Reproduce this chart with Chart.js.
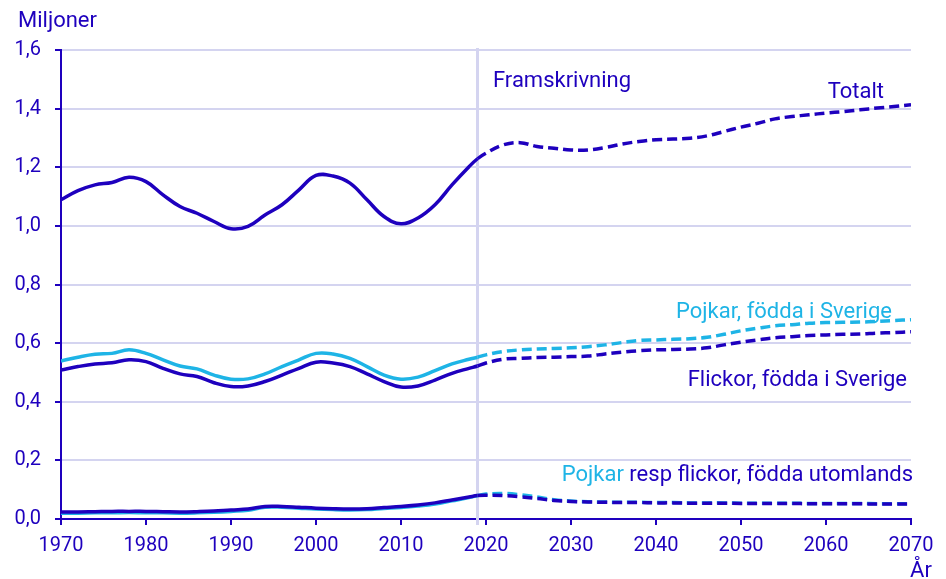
<!DOCTYPE html>
<html lang="sv">
<head>
  <meta charset="UTF-8">
  <title>Miljoner barn</title>
  <script src="https://cdn.jsdelivr.net/npm/chart.js@4.4.0/dist/chart.umd.min.js"></script>
  <style>
    html, body { margin: 0; padding: 0; background: #fff; }
    #wrap { width: 946px; height: 579px; }
  </style>
</head>
<body>
  <div id="wrap"><canvas id="chart"></canvas></div>
  <script>
    const DARK = '#1e00be';
    const LIGHT = '#1eb4e6';
    const GRID = '#d4d4f0';
    const FONT = 'Roboto, "Noto Sans", sans-serif';

    // years (historical up to 2019, framskrivning from 2019)
    const years = [
      1970, 1972, 1974, 1976, 1978, 1980, 1982, 1984, 1986, 1988,
      1990, 1992, 1994, 1996, 1998, 2000, 2002, 2004, 2006, 2008,
      2010, 2012, 2014, 2016, 2018, 2019,
      2020, 2022, 2024, 2026, 2028, 2030, 2032, 2034, 2036, 2038,
      2040, 2042, 2044, 2046, 2048, 2050, 2052, 2054, 2056, 2058,
      2060, 2062, 2064, 2066, 2068, 2070
    ];
    const forecastStart = 2019;
    const xTicks = [1970, 1980, 1990, 2000, 2010, 2020, 2030, 2040, 2050, 2060, 2070];

    const totalt = [
      1.089, 1.12, 1.14, 1.148, 1.166, 1.151, 1.106, 1.066, 1.043, 1.015,
      0.99, 0.998, 1.037, 1.072, 1.123, 1.172, 1.17, 1.146, 1.089, 1.032,
      1.007, 1.027, 1.072, 1.14, 1.202, 1.229,
      1.248, 1.276, 1.284, 1.271, 1.265, 1.259, 1.259, 1.267, 1.279, 1.288,
      1.294, 1.296, 1.299, 1.307, 1.322, 1.337, 1.35, 1.365, 1.373, 1.379,
      1.385, 1.39, 1.396, 1.402, 1.407, 1.413
    ];
    const pojkarSverige = [
      0.539, 0.552, 0.562, 0.565, 0.577, 0.565, 0.543, 0.522, 0.512, 0.491,
      0.477, 0.478, 0.495, 0.52, 0.543, 0.565, 0.563, 0.548, 0.52, 0.491,
      0.477, 0.484, 0.506, 0.529, 0.545, 0.552,
      0.56, 0.571, 0.577, 0.58, 0.582, 0.584, 0.588, 0.594, 0.602, 0.609,
      0.611, 0.613, 0.615, 0.62, 0.63, 0.642, 0.651, 0.659, 0.663, 0.668,
      0.67, 0.671, 0.672, 0.674, 0.677, 0.68
    ];
    const flickorSverige = [
      0.508, 0.52, 0.529, 0.533, 0.543, 0.537, 0.514, 0.495, 0.486, 0.465,
      0.452, 0.454, 0.469, 0.491, 0.514, 0.535, 0.532, 0.52, 0.495, 0.469,
      0.45, 0.454, 0.474, 0.497, 0.514, 0.522,
      0.532, 0.545, 0.548, 0.551, 0.552, 0.554, 0.556, 0.563, 0.569, 0.574,
      0.577, 0.578, 0.58, 0.584, 0.594, 0.603, 0.611, 0.618, 0.622, 0.626,
      0.628, 0.63, 0.631, 0.634, 0.636, 0.639
    ];
    const flickorUtomlands = [
      0.024, 0.024, 0.025, 0.026, 0.026, 0.026, 0.025, 0.024, 0.025, 0.027,
      0.031, 0.034, 0.043, 0.043, 0.04, 0.037, 0.035, 0.034, 0.035, 0.039,
      0.043, 0.048, 0.055, 0.065, 0.075, 0.08,
      0.081, 0.08, 0.076, 0.07, 0.063, 0.06, 0.058, 0.057, 0.056, 0.056,
      0.055, 0.055, 0.054, 0.054, 0.054, 0.053, 0.053, 0.053, 0.053, 0.052,
      0.052, 0.052, 0.052, 0.051, 0.051, 0.051
    ];
    const pojkarUtomlands = [
      0.02, 0.02, 0.021, 0.021, 0.022, 0.021, 0.021, 0.02, 0.021, 0.023,
      0.026, 0.03, 0.04, 0.04, 0.037, 0.034, 0.032, 0.031, 0.032, 0.036,
      0.039, 0.044, 0.051, 0.062, 0.073, 0.08,
      0.085, 0.087, 0.083, 0.075, 0.066, 0.061, 0.059, 0.058, 0.057, 0.057,
      0.056, 0.056, 0.055, 0.055, 0.055, 0.054, 0.054, 0.054, 0.054, 0.053,
      0.053, 0.053, 0.053, 0.052, 0.052, 0.052
    ];

    const toPoints = vals => years.map((y, i) => ({ x: y, y: vals[i] }));

    const makeSet = (label, vals, color) => ({
      label: label,
      data: toPoints(vals),
      borderColor: color,
      backgroundColor: color,
      borderWidth: 3.5,
      pointRadius: 0,
      fill: false,
      tension: 0.4,
      segment: {
        borderDash: ctx => ctx.p0.parsed.x >= forecastStart ? [10, 5] : undefined
      }
    });

    // text label: [text, color, anchor year, anchor value (baseline), align]
    const LABEL_FONT = '22px ' + FONT;

    const extras = {
      id: 'extras',
      beforeDatasetsDraw(chart) {
        const { ctx, scales: { x }, chartArea } = chart;
        const px = x.getPixelForValue(forecastStart);
        ctx.save();
        ctx.strokeStyle = GRID;
        ctx.lineWidth = 3;
        ctx.beginPath();
        ctx.moveTo(px, chartArea.top - 2);
        ctx.lineTo(px, chartArea.bottom + 6);
        ctx.stroke();
        ctx.restore();
      },
      afterDraw(chart) {
        const { ctx, scales: { x, y } } = chart;
        ctx.save();
        ctx.font = LABEL_FONT;
        ctx.textBaseline = 'alphabetic';

        ctx.fillStyle = DARK;
        ctx.textAlign = 'left';
        ctx.fillText('Framskrivning', x.getPixelForValue(2020.82), y.getPixelForValue(1.4734));

        ctx.textAlign = 'right';
        ctx.fillText('Totalt', x.getPixelForValue(2066.82), y.getPixelForValue(1.4359));

        ctx.fillStyle = LIGHT;
        ctx.fillText('Pojkar, födda i Sverige', x.getPixelForValue(2067.76), y.getPixelForValue(0.6855));

        ctx.fillStyle = DARK;
        ctx.fillText('Flickor, födda i Sverige', x.getPixelForValue(2069.53), y.getPixelForValue(0.4536));

        const rest = ' resp flickor, födda utomlands';
        const rx = x.getPixelForValue(2070.24);
        const ry = y.getPixelForValue(0.1296);
        ctx.fillText(rest, rx, ry);
        ctx.fillStyle = LIGHT;
        ctx.fillText('Pojkar', rx - ctx.measureText(rest).width, ry);

        // axis titles
        ctx.fillStyle = DARK;
        ctx.textAlign = 'left';
        ctx.fillText('Miljoner', 18, 27);
        ctx.textAlign = 'center';
        ctx.fillText('År', 921, 577);
        ctx.restore();
      }
    };

    new Chart(document.getElementById('chart'), {
      type: 'line',
      data: {
        datasets: [
          makeSet('Totalt', totalt, DARK),
          makeSet('Flickor, födda i Sverige', flickorSverige, DARK),
          makeSet('Pojkar, födda i Sverige', pojkarSverige, LIGHT),
          makeSet('Flickor, födda utomlands', flickorUtomlands, DARK),
          makeSet('Pojkar, födda utomlands', pojkarUtomlands, LIGHT)
        ]
      },
      options: {
        responsive: true,
        maintainAspectRatio: false,
        animation: false,
        layout: { padding: { left: 0, right: 35, top: 50, bottom: 0 } },
        plugins: {
          legend: { display: false },
          tooltip: { enabled: false }
        },
        scales: {
          x: {
            type: 'linear',
            min: 1970,
            max: 2070,
            afterBuildTicks: scale => { scale.ticks = xTicks.map(v => ({ value: v })); },
            afterFit: scale => { scale.height = 60; },
            border: { color: DARK, width: 2 },
            grid: { drawOnChartArea: false, color: DARK, tickColor: DARK, tickLength: 6, lineWidth: 2 },
            ticks: {
              color: DARK,
              font: { family: FONT, size: 20 },
              padding: 9,
              maxRotation: 0,
              callback: v => String(v)
            }
          },
          y: {
            min: 0,
            max: 1.6,
            afterFit: scale => { scale.width = 61; },
            border: { color: DARK, width: 2 },
            grid: { color: GRID, lineWidth: 2, tickColor: DARK, tickLength: 6 },
            ticks: {
              stepSize: 0.2,
              color: DARK,
              font: { family: FONT, size: 20 },
              padding: 14,
              callback: v => v.toFixed(1).replace('.', ',')
            }
          }
        }
      },
      plugins: [extras]
    });
  </script>
</body>
</html>
